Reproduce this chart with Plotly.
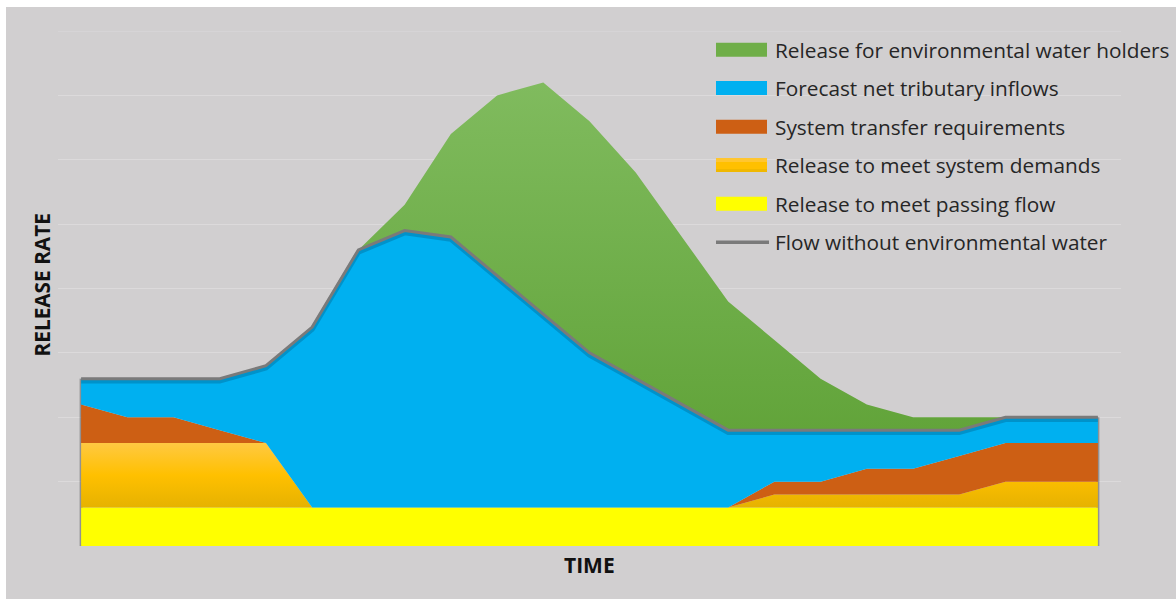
import numpy as np
import plotly.graph_objects as go

# Time steps (evenly spaced, unlabeled)
steps = list(range(23))

# Release components, stacked bottom to top
passing_flow = [0.6] * 23
system_demands = [1.0, 1.0, 1.0, 1.0, 1.0, 0, 0, 0, 0, 0, 0, 0, 0, 0, 0,
                  0.2, 0.2, 0.2, 0.2, 0.2, 0.4, 0.4, 0.4]
transfer_req = [0.6, 0.4, 0.4, 0.2, 0, 0, 0, 0, 0, 0, 0, 0, 0, 0, 0,
                0.2, 0.2, 0.4, 0.4, 0.6, 0.6, 0.6, 0.6]
tributary_inflows = [0.4, 0.6, 0.6, 0.8, 1.2, 2.8, 4.0, 4.3, 4.2, 3.6, 3.0, 2.4,
                     2.0, 1.6, 1.2, 0.8, 0.8, 0.6, 0.6, 0.4, 0.4, 0.4, 0.4]
env_release = [0, 0, 0, 0, 0, 0, 0, 0.4, 1.6, 2.8, 3.6, 3.6, 3.2, 2.6, 2.0,
               1.4, 0.8, 0.4, 0.2, 0.2, 0, 0, 0]

series_names = [
    "Release for environmental water holders",
    "Forecast net tributary inflows",
    "System transfer requirements",
    "Release to meet system demands",
    "Release to meet passing flow",
    "Flow without environmental water",
]

# Flow without environmental water = everything except the env release
flow_without_env = (np.array(passing_flow) + np.array(system_demands)
                    + np.array(transfer_req) + np.array(tributary_inflows))

BG = "#d1cfd0"
GRID = "#dcdadb"
GREEN_TOP, GREEN_BOT = "#80bb5e", "#62a43a"
BLUE = "#00b0f0"
RED = "#cd5f14"
ORANGE_TOP, ORANGE_MID, ORANGE_BOT = "#ffc942", "#ffc000", "#e6b200"
YELLOW = "#ffff00"
LINE_GRAY = "#7a7a7a"
EDGE = "rgba(95,95,95,0.55)"
TEXT = "#262626"
FONT = "Open Sans"

W, H = 1176, 599
L, R, T, B = 58, 55, 31, 53
PW, PH = W - L - R, H - T - B


def px_x(x):
    return (x - L) / PW


def px_y(y):
    return (H - B - y) / PH


fig = go.Figure()

# soft edge around the stacked block (left, bottom, right)
fig.add_trace(go.Scatter(
    x=[steps[0], steps[0]], y=[0, flow_without_env[0]], mode="lines",
    line=dict(color=EDGE, width=3), hoverinfo="skip", showlegend=False))
fig.add_trace(go.Scatter(
    x=[steps[-1], steps[-1]], y=[0, flow_without_env[-1]], mode="lines",
    line=dict(color=EDGE, width=3), hoverinfo="skip", showlegend=False))
fig.add_trace(go.Scatter(
    x=steps, y=[0] * len(steps), mode="lines",
    line=dict(color=EDGE, width=3), hoverinfo="skip", showlegend=False))

fig.add_trace(go.Scatter(
    x=steps, y=passing_flow, stackgroup="rel", mode="none",
    fillcolor=YELLOW, name=series_names[4], showlegend=False))
fig.add_trace(go.Scatter(
    x=steps, y=system_demands, stackgroup="rel", mode="none",
    fillgradient=dict(type="vertical", start=0.6, stop=1.6,
                      colorscale=[[0, ORANGE_BOT], [0.5, ORANGE_MID], [1, ORANGE_TOP]]),
    name=series_names[3], showlegend=False))
fig.add_trace(go.Scatter(
    x=steps, y=transfer_req, stackgroup="rel", mode="none",
    fillcolor=RED, name=series_names[2], showlegend=False))
fig.add_trace(go.Scatter(
    x=steps, y=tributary_inflows, stackgroup="rel", mode="none",
    fillcolor=BLUE, name=series_names[1], showlegend=False))
fig.add_trace(go.Scatter(
    x=steps, y=env_release, stackgroup="rel", mode="none",
    fillgradient=dict(type="vertical", start=1.8, stop=7.2,
                      colorscale=[[0, GREEN_BOT], [1, GREEN_TOP]]),
    name=series_names[0], showlegend=False))

# soft shadow under the flow line
fig.add_trace(go.Scatter(
    x=steps, y=flow_without_env - 0.035, mode="lines",
    line=dict(color="rgba(0,40,70,0.22)", width=5),
    hoverinfo="skip", showlegend=False))
fig.add_trace(go.Scatter(
    x=steps, y=flow_without_env, mode="lines",
    line=dict(color=LINE_GRAY, width=3),
    name=series_names[5], showlegend=False))

shapes = [
    dict(type="rect", xref="paper", yref="paper", layer="below",
         x0=px_x(6), x1=px_x(W + 5), y0=px_y(H + 5), y1=px_y(7),
         fillcolor=BG, line=dict(width=0)),
    # top gridline at the edge of the value range
    dict(type="line", xref="paper", yref="y", layer="below",
         x0=0, x1=1, y0=8, y1=8, line=dict(color=GRID, width=1)),
]

# legend swatches and labels
legend_rows = [49.7, 88.0, 126.7, 165.0, 203.8, 242.3]
swatch_fills = ["#6fae48", BLUE, RED, ORANGE_MID, YELLOW]
annotations = []
for i, yc in enumerate(legend_rows):
    if i < 5:
        shapes.append(dict(type="rect", xref="paper", yref="paper",
                           x0=px_x(716), x1=px_x(767),
                           y0=px_y(yc + 7), y1=px_y(yc - 7),
                           fillcolor=swatch_fills[i], line=dict(width=0)))
        if i == 3:
            shapes.append(dict(type="rect", xref="paper", yref="paper",
                               x0=px_x(716), x1=px_x(767),
                               y0=px_y(yc - 3), y1=px_y(yc - 7),
                               fillcolor="#ffc630", line=dict(width=0)))
            shapes.append(dict(type="rect", xref="paper", yref="paper",
                               x0=px_x(716), x1=px_x(767),
                               y0=px_y(yc + 7), y1=px_y(yc + 4),
                               fillcolor="#f0b800", line=dict(width=0)))
    else:
        shapes.append(dict(type="line", xref="paper", yref="paper",
                           x0=px_x(716), x1=px_x(769),
                           y0=px_y(yc), y1=px_y(yc),
                           line=dict(color=LINE_GRAY, width=3.5)))
    annotations.append(dict(
        text=series_names[i], xref="paper", yref="paper",
        x=px_x(773), y=px_y(yc), xanchor="left", yanchor="middle",
        showarrow=False, font=dict(family=FONT, size=20.8, color=TEXT)))

annotations.append(dict(
    text="<b>TIME</b>", xref="paper", yref="paper",
    x=px_x(589), y=px_y(565), xanchor="center", yanchor="middle",
    showarrow=False, font=dict(family=FONT, size=21, color="#111111")))
annotations.append(dict(
    text="<b>RELEASE RATE</b>", xref="paper", yref="paper",
    x=px_x(41.5), y=px_y(285), xanchor="center", yanchor="middle",
    textangle=-90, showarrow=False,
    font=dict(family=FONT, size=20.8, color="#111111")))

fig.update_layout(
    width=W, height=H,
    margin=dict(l=L, r=R, t=T, b=B),
    paper_bgcolor="white", plot_bgcolor="rgba(0,0,0,0)",
    shapes=shapes, annotations=annotations,
    showlegend=False,
    xaxis=dict(range=[-0.5, 22.5], showgrid=False, zeroline=False,
               showticklabels=False, ticks="", showline=False),
    yaxis=dict(range=[0, 8], dtick=1, showgrid=True, gridcolor=GRID,
               gridwidth=1, zeroline=False, showticklabels=False,
               ticks="", showline=False),
)

fig.write_html("out.html")
